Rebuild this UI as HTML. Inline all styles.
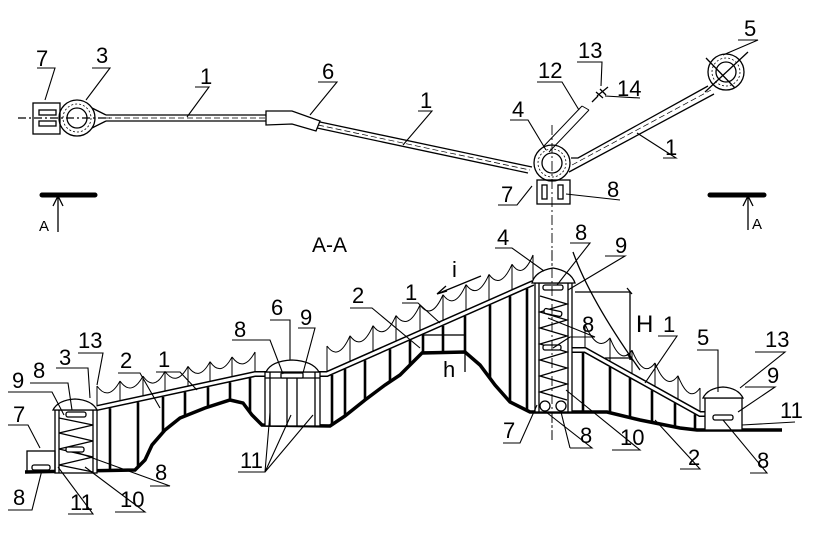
<!DOCTYPE html>
<html><head><meta charset="utf-8"><style>
html,body{margin:0;padding:0;background:#fff}
svg{display:block}
text{font-family:"Liberation Sans Narrow","Liberation Sans",sans-serif;font-size:22px;fill:#000}
</style></head><body>
<svg id="s" width="816" height="544" viewBox="0 0 816 544" xmlns="http://www.w3.org/2000/svg" fill="none" stroke="#000" stroke-width="1.3">
<!-- TOP VIEW -->
<line x1="18" y1="118" x2="110" y2="118" stroke-dasharray="8,3,2,3"/>
<rect x="33" y="103" width="27" height="31"/>
<rect x="39" y="110" width="17" height="5"/><rect x="39" y="121" width="17" height="5"/>
<circle cx="77" cy="118" r="18"/><circle cx="77" cy="118" r="14" stroke-dasharray="2,2" stroke-width="0.8"/><circle cx="77" cy="118" r="10"/>
<path d="M92 108 L106 115 M92 128 L106 121"/>
<path d="M106 115 L266 115 M106 121 L266 121"/>
<line x1="106" y1="118" x2="266" y2="118" stroke-dasharray="6,3" stroke-width="0.7"/>
<path d="M266 111 L292 111 L320 121 L316 131 L292 124 L266 125 Z"/>
<path d="M320 122 L532 167 M317 128 L528 173"/>
<line x1="318" y1="125" x2="530" y2="170" stroke-dasharray="6,3" stroke-width="0.7"/>
<circle cx="552" cy="163" r="18"/><circle cx="552" cy="163" r="14" stroke-dasharray="2,2" stroke-width="0.8"/><circle cx="552" cy="163" r="10"/>
<path d="M571 158 L578 158 L708 86 M569 172 L714 94"/>
<line x1="572" y1="165" x2="711" y2="90" stroke-dasharray="6,3" stroke-width="0.7"/>
<circle cx="726" cy="72" r="18"/><circle cx="726" cy="72" r="14" stroke-dasharray="2,2" stroke-width="0.8"/><circle cx="726" cy="72" r="10"/>
<path d="M705 92 L748 52 M706 58 L735 88"/>
<path d="M543 147 L582 106 M549 152 L589 110 M582 106 L589 110" stroke-width="1"/>
<path d="M592 102 L598 96 M597 96 L608 87 M596 92 L603 98 M600 89 L606 95"/>
<rect x="537" y="180" width="33" height="24"/>
<rect x="542" y="185" width="5" height="14"/><rect x="558" y="185" width="5" height="14"/>
<line x1="552" y1="125" x2="552" y2="440" stroke-dasharray="10,3,2,3" stroke-width="0.9"/>
<!-- section marks -->
<line x1="42" y1="195" x2="95" y2="195" stroke-width="5" stroke-linecap="round"/>
<path d="M58 232 L58 196 M53 206 L58 196 L63 206"/>
<line x1="710" y1="195" x2="764" y2="195" stroke-width="5" stroke-linecap="round"/>
<path d="M748 230 L748 196 M743 206 L748 196 L753 206"/>
<g stroke="none">
<text x="39" y="231" style="font-size:15px">A</text>
<text x="752" y="229" style="font-size:15px">A</text>
<text x="312" y="252" style="font-size:21px">A-A</text>
</g>
<!-- SECTION -->
<g id="sec"></g>
<!-- tower 4 -->
<rect x="535" y="283" width="37" height="129" fill="#fff"/>
<line x1="539" y1="283" x2="539" y2="412"/><line x1="568" y1="283" x2="568" y2="412"/>
<path d="M532 283 Q535 271 553 268 Q571 271 575 283 Z" fill="#fff"/>
<path d="M540 296 L567 304 L540 312 L567 320 L540 328 L567 336 L540 344 L567 352 L540 360 L567 368 L540 376 L567 384 L540 392 L567 400"/>
<rect x="543" y="285" width="20" height="5" rx="2" fill="#fff"/>
<rect x="544" y="310" width="18" height="5" rx="2" fill="#fff" transform="rotate(12 553 312)"/>
<rect x="543" y="345" width="18" height="5" rx="2" fill="#fff"/>
<circle cx="545" cy="406" r="5" fill="#fff"/><circle cx="561" cy="406" r="5" fill="#fff"/>
<line x1="552" y1="250" x2="552" y2="440" stroke-dasharray="10,3,2,3" stroke-width="0.9"/>
<!-- box 3 -->
<rect x="55" y="410" width="42" height="63" fill="#fff"/>
<line x1="59" y1="410" x2="59" y2="473"/><line x1="93" y1="410" x2="93" y2="473"/>
<path d="M53 410 Q58 400 75 399 Q92 400 97 410 Z" fill="#fff"/>
<path d="M59 418 L93 425 L59 433 L93 441 L59 449 L93 457 L59 465 L93 472"/>
<rect x="66" y="412" width="20" height="5" rx="2" fill="#fff"/>
<rect x="66" y="447" width="18" height="5" rx="2" fill="#fff"/>
<rect x="27" y="451" width="28" height="21"/>
<rect x="32" y="465" width="18" height="5" rx="2"/>
<!-- box 6 -->
<rect x="265" y="372" width="55" height="54" fill="#fff"/>
<path d="M270 372 L270 426 M287 372 L287 426 M297 372 L297 426 M315 372 L315 426 M265 378 L320 378"/>
<path d="M266 372 Q271 361 292 360 Q313 361 319 372 Z" fill="#fff"/>
<rect x="281" y="373" width="22" height="5" rx="1" fill="#fff"/>
<!-- box 5 -->
<rect x="705" y="398" width="37" height="32" fill="#fff"/>
<path d="M703 398 Q708 388 723 387 Q738 388 743 398 Z" fill="#fff"/>
<rect x="713" y="415" width="20" height="5" rx="2" fill="#fff"/>
<!-- h & H dims -->
<rect x="423" y="335" width="42" height="17"/>
<path d="M465 334 L465 372"/>
<path d="M575 292 L630 292 L630 360 M605 358 L632 358 M627 288 L632 294 M627 354 L632 360"/>
<path d="M573 252 Q590 300 640 370"/>
<path d="M481 276 L437 294 M437 294 L446 286 M437 294 L447 291"/>
<!-- leaders -->
<g stroke-width="1.1">
<path d="M37 68 L55 68 L45 100 M92 68 L110 68 L86 100 M195 87 L209 87 L187 117 M318 82 L337 82 L310 115 M418 111 L432 111 L403 145 M510 120 L528 120 L546 150 M537 82 L562 82 L579 110 M577 62 L602 62 L601 86 M605 96 L640 98 M738 40 L758 40 L723 55 M663 158 L676 158 L637 133 M498 205 L517 205 L532 186 M620 200 L566 194"/>
<path d="M8 425 L28 425 L40 448 M8 510 L32 510 L42 470 M8 392 L52 392 L64 415 M30 383 L68 383 L72 410 M56 368 L88 368 L90 398 M78 353 L103 353 L97 385 M118 373 L140 373 L160 408 M156 372 L180 372 L197 390 M232 340 L270 340 L283 374 M270 320 L290 320 L290 360 M298 328 L315 328 L303 373 M238 472 L265 472 L270 413 M265 472 L291 415 M265 472 L313 415 M68 514 L93 514 L58 467 M115 512 L145 512 L85 467 M150 486 L170 486 L76 452 M350 308 L372 308 L420 348 M402 303 L418 303 L440 323"/>
<path d="M495 248 L512 248 L544 271 M570 243 L590 243 L557 285 M605 256 L625 256 L568 290 M570 337 L595 337 L548 318 M570 337 L553 348 M658 336 L677 336 L645 383 M697 350 L718 350 L718 392 M755 352 L785 352 L740 388 M745 387 L775 387 L738 412 M795 422 L742 425 M503 443 L520 443 L537 405 M570 448 L592 448 L546 412 M570 448 L561 412 M612 450 L640 450 L566 390 M680 469 L700 469 L655 420 M750 473 L767 473 L723 420"/>
</g>
<g stroke="none">
<text x="36" y="66">7</text><text x="96" y="63">3</text><text x="200" y="84">1</text><text x="322" y="79">6</text><text x="420" y="108">1</text>
<text x="512" y="117">4</text><text x="538" y="78">12</text><text x="578" y="58">13</text><text x="617" y="96">14</text><text x="744" y="36">5</text>
<text x="665" y="155">1</text><text x="501" y="202">7</text><text x="607" y="197">8</text>
<text x="13" y="422">7</text><text x="13" y="505">8</text><text x="12" y="388">9</text><text x="33" y="378">8</text><text x="59" y="365">3</text><text x="78" y="348">13</text>
<text x="120" y="368">2</text><text x="158" y="367">1</text><text x="234" y="337">8</text><text x="271" y="315">6</text><text x="300" y="325">9</text>
<text x="240" y="468">11</text><text x="70" y="510">11</text><text x="120" y="507">10</text><text x="155" y="480">8</text>
<text x="352" y="303">2</text><text x="405" y="300">1</text><text x="452" y="277">i</text><text x="443" y="377">h</text>
<text x="497" y="245">4</text><text x="575" y="240">8</text><text x="615" y="253">9</text><text x="582" y="332">8</text><text x="636" y="332" style="font-size:24px">H</text><text x="663" y="332">1</text>
<text x="503" y="438">7</text><text x="580" y="443">8</text><text x="620" y="445">10</text><text x="688" y="465">2</text>
<text x="697" y="345">5</text><text x="765" y="347">13</text><text x="767" y="383">9</text><text x="780" y="418">11</text><text x="757" y="468">8</text>
</g>
</svg>
<script>
(function(){
var NS="http://www.w3.org/2000/svg",g=document.getElementById("sec");
function el(t,a){var e=document.createElementNS(NS,t);for(var k in a)e.setAttribute(k,a[k]);g.appendChild(e);return e;}
var G=[[25,472],[135,470],[145,460],[152,445],[165,430],[180,418],[205,408],[230,400],[243,403],[252,415],[262,425],[330,426],[345,416],[365,400],[385,385],[400,375],[410,365],[422,353],[465,352],[480,365],[495,385],[510,402],[530,412],[607,412],[640,420],[680,428],[697,430],[782,430]];
function gy(x){for(var i=0;i<G.length-1;i++){if(x>=G[i][0]&&x<=G[i+1][0]){var t=(x-G[i][0])/(G[i+1][0]-G[i][0]);return G[i][1]+t*(G[i+1][1]-G[i][1]);}}return 472;}
var L=[[97,408],[255,374],[327,374],[533,283]],R=[[572,350],[585,350],[700,414],[705,414]];
function dy(P,x){for(var i=0;i<P.length-1;i++){if(x>=P[i][0]&&x<=P[i+1][0]){var t=(x-P[i][0])/(P[i+1][0]-P[i][0]);return P[i][1]+t*(P[i+1][1]-P[i][1]);}}return null;}
el("path",{d:"M"+G.map(function(p){return p.join(" ")}).join(" L"),"stroke-width":"3.5"});
[L,R].forEach(function(P){var d="M"+P.map(function(p){return p.join(" ")}).join(" L");el("path",{d:d,"stroke-width":"6"});el("path",{d:d,"stroke-width":"3",stroke:"#fff"});});
var pl=[110,138,163,185,208,230,250,332,345,365,390,410,423,443,465,490,510,527],pr=[583,610,630,652,675,695];
pl.forEach(function(x){var t=dy(L,x)+3,b=gy(x);if(b>t)el("line",{x1:x,y1:t,x2:x,y2:b,"stroke-width":"2.6"});});
pr.forEach(function(x){var t=dy(R,x)+3,b=gy(x);if(b>t)el("line",{x1:x,y1:t,x2:x,y2:b,"stroke-width":"2.6"});});
function sc(xs,P,top){var d="";for(var i=0;i<xs.length;i++){var x=xs[i],y=dy(P,x)-top;el("line",{x1:x,y1:y,x2:x,y2:dy(P,x)-2,"stroke-width":"1"});if(i>0){var x0=xs[i-1],y0=dy(P,x0)-top;d+="M"+x0+" "+y0+" Q"+((x0+x)/2)+" "+(Math.max(y0,y)+16)+" "+x+" "+y+" ";}}el("path",{d:d,"stroke-width":"1"});}
sc([97,120,143,165,188,210,232,255],L,22);
sc([327,350,373,396,420,443,466,489,512,533],L,28);
sc([585,610,632,655,678,700],R,26);
})();
</script>
</body></html>
